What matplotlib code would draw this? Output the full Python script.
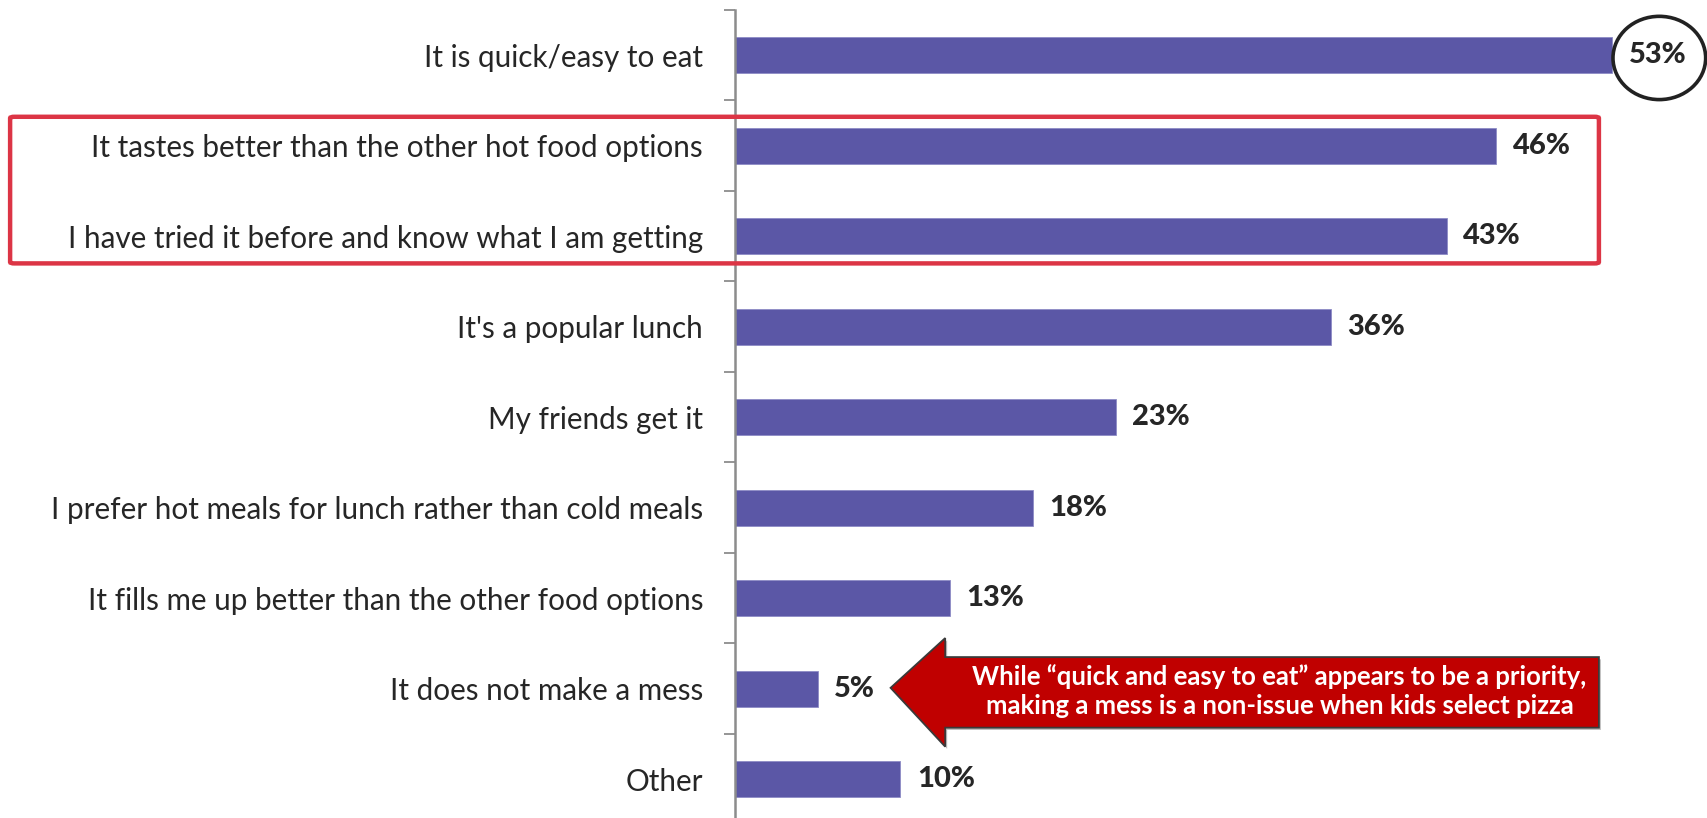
import matplotlib.pyplot as plt
from matplotlib.patches import Ellipse, FancyBboxPatch, Polygon
import numpy as np

plt.rcParams['font.family'] = ['Lato', 'DejaVu Sans']

# reasons for choosing pizza, top to bottom
reasons = [
    "It is quick/easy to eat",
    "It tastes better than the other hot food options",
    "I have tried it before and know what I am getting",
    "It's a popular lunch",
    "My friends get it",
    "I prefer hot meals for lunch rather than cold meals",
    "It fills me up better than the other food options",
    "It does not make a mess",
    "Other",
]
pct = [53, 46, 43, 36, 23, 18, 13, 5, 10]

callout_text = ("While \u201cquick and easy to eat\u201d appears to be a priority,\n"
                "making a mess is a non-issue when kids select pizza")

bar_color = "#5B57A6"
text_color = "#262626"

W, H = 1708, 818
fig = plt.figure(figsize=(W / 100, H / 100), dpi=100)
ax = fig.add_axes([735 / W, 0, 1 - 735 / W, 1 - 10 / H])

y = np.arange(len(reasons))
ax.barh(y, pct, height=0.4, color=bar_color, edgecolor="#8e8bc6", linewidth=0.6, zorder=2)

for yi, v in zip(y, pct):
    ax.text(v + 1.0, yi, f"{v}%", va="center", ha="left", fontsize=21,
            fontweight="black", color=text_color)

ax.set_xlim(0, (W - 735) / 16.55)
ax.set_ylim(-0.5 + 808 / 90.5, -0.5)

ax.set_yticks(y)
ax.set_yticklabels(reasons, fontsize=21.3, color=text_color)
ax.tick_params(axis="y", which="major", length=0, pad=23)
ax.set_yticks(np.arange(-0.5, len(reasons) - 0.5, 1), minor=True)
ax.tick_params(axis="y", which="minor", length=8, width=1.3, color="#8c8c8c")
ax.set_xticks([])

for s in ["top", "right", "bottom"]:
    ax.spines[s].set_visible(False)
ax.spines["left"].set_color("#8c8c8c")
ax.spines["left"].set_linewidth(1.8)

# circle round the top value
top = pct[0]
ax.add_patch(Ellipse((top + 2.85, 0.03), 5.6, 0.92, fill=False, edgecolor="#222222",
                     linewidth=2.6, clip_on=False, zorder=4))

# red frame round the two taste/familiarity rows
ax.add_patch(FancyBboxPatch((-43.8, 0.68), 96.0, 1.62,
                            boxstyle="round,pad=0,rounding_size=0.25",
                            fill=False, edgecolor="#DC3545", linewidth=3.2,
                            clip_on=False, zorder=5,
                            mutation_aspect=0.06))

# callout arrow pointing at the "mess" bar
iy = 7
tip, neck, end = 9.4, 12.7, 52.2
outline = [(tip, iy - 0.01), (neck, iy - 0.56), (neck, iy - 0.35),
           (end, iy - 0.35), (end, iy + 0.43), (neck, iy + 0.43),
           (neck, iy + 0.64)]
shadow = Polygon([(px + 0.12, py + 0.025) for px, py in outline], closed=True,
                 facecolor="#bdbdbd", edgecolor="none", clip_on=False, zorder=2.5)
ax.add_patch(shadow)
arrow = Polygon(outline, closed=True, facecolor="#C00000",
                edgecolor="#3a3a3a", linewidth=1.3, clip_on=False, zorder=3)
ax.add_patch(arrow)
ax.text(32.9, iy + 0.03, callout_text, ha="center", va="center", fontsize=18.5,
        fontweight="bold", color="white", linespacing=1.25, zorder=6)

fig.savefig("out.png", dpi=100)
